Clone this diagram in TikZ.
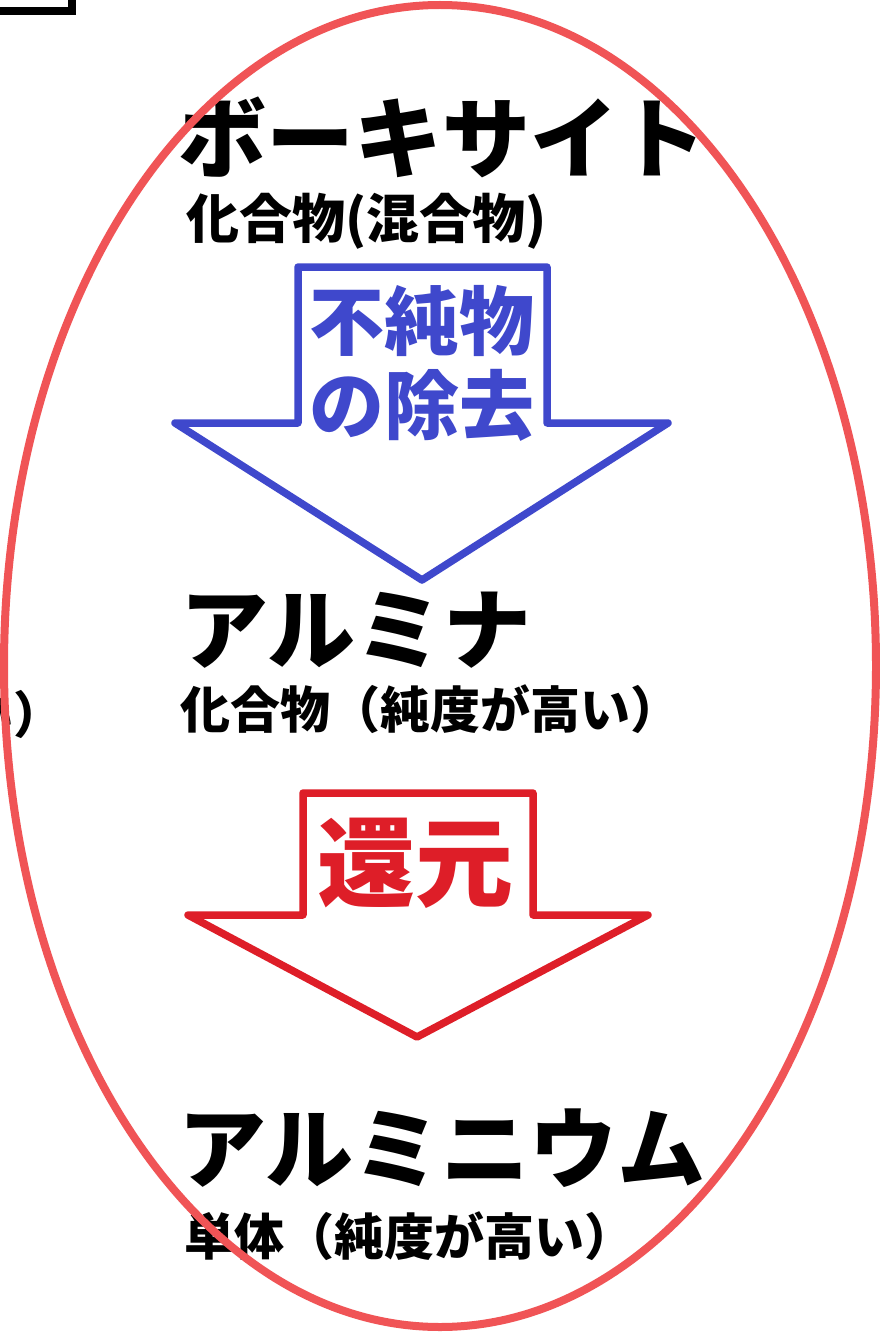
\documentclass[tikz,border=0pt]{standalone}
\usepackage{fontspec}
\newfontfamily\jp{Noto Sans CJK JP}
\definecolor{ovalred}{RGB}{240,84,86}
\definecolor{arrblue}{RGB}{63,72,204}
\definecolor{arrred}{RGB}{222,30,40}
\begin{document}
\begin{tikzpicture}[x=1pt,y=-1pt,
  title/.style={font=\jp\bfseries\fontsize{88}{90}\selectfont, inner sep=0pt, anchor=west},
  subt/.style={font=\jp\bfseries\fontsize{50}{52}\selectfont, inner sep=0pt, anchor=west},
  bigarrow/.style={line width=7.5pt, line join=round, fill=white},
  oval/.style={draw=ovalred, line width=8pt}]
\path[use as bounding box, fill=white] (0,0) rectangle (879,1332);
% partial box at top left
\draw[line width=8pt] (0,11) -- (72,11) -- (72,0);
% texts
\node[title] (baux) at (178,137) {ボーキサイト};
\node[subt, font=\jp\bfseries\fontsize{53}{55}\selectfont] (bauxsub) at (186,221) {化合物(混合物)};
\node[title] (alumina) at (180,630) {アルミナ};
\node[subt] (aluminasub) at (180,709) {化合物（純度が高い）};
\node[title] (alum) at (178,1148) {アルミニウム};
\node[subt] (alumsub) at (184,1236) {単体（純度が高い）};
\node[subt, anchor=east] (leftcut) at (64,714) {い）};
% arrows
\draw[bigarrow, draw=arrblue] (298,267) -- (547,267) -- (547,423) -- (668,423) -- (422,580) -- (175,423) -- (298,423) -- cycle;
\node[font=\jp\bfseries\fontsize{75}{84}\selectfont, text=arrblue, align=center, inner sep=0pt] (step1) at (422,363) {不純物\\の除去};
\draw[bigarrow, draw=arrred] (303,793) -- (533,793) -- (533,915) -- (648,915) -- (417,1037) -- (188,915) -- (303,915) -- cycle;
\node[font=\jp\bfseries\fontsize{98}{100}\selectfont, text=arrred, inner sep=0pt] (step2) at (415,863) {還元};
% oval
\draw[oval] (440,666) ellipse [x radius=436, y radius=661];
\end{tikzpicture}
\end{document}
